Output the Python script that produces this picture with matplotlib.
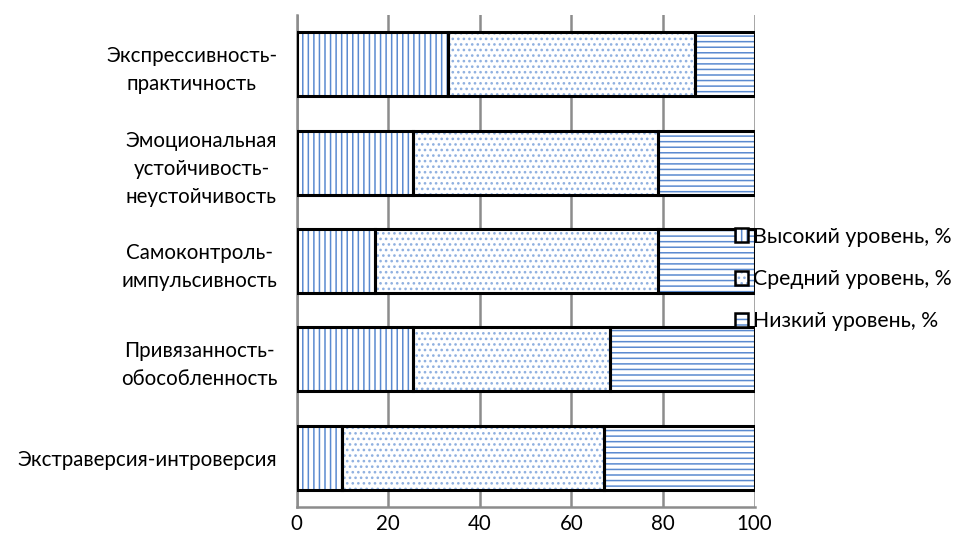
import matplotlib
matplotlib.use("Agg")
import matplotlib.pyplot as plt
from matplotlib.patches import Patch
from matplotlib.legend_handler import HandlerTuple

plt.rcParams['font.family'] = ['Lato', 'DejaVu Sans']
plt.rcParams['hatch.linewidth'] = 1.1

categories = ["Экспрессивность-\nпрактичность",
              "Эмоциональная\nустойчивость-\nнеустойчивость",
              "Самоконтроль-\nимпульсивность",
              "Привязанность-\nобособленность",
              "Экстраверсия-интроверсия"]
high = [33, 25.5, 17, 25.5, 10]
mid = [54, 53.5, 62, 43, 57]
low = [13, 21, 21, 31.5, 33]
series_names = ["Высокий уровень, %", "Средний уровень, %", "Низкий уровень, %"]
hatches = ["|||", "...", "---"]
hatch_colors = ["#5a8ad0", "#8fb0e0", "#5a8ad0"]

grid_gray = "#8c8c8c"

fig = plt.figure(figsize=(9.54, 5.46), dpi=100)
ax = fig.add_axes([0.311, 0.0714, 0.48, 0.901])

y = list(range(len(categories)))
left = [0] * len(categories)
handles = []
for vals, h, hc in zip([high, mid, low], hatches, hatch_colors):
    # hatch in blue first, then a black outline on top
    ax.barh(y, vals, left=left, height=0.65, color="white",
            edgecolor=hc, hatch=h, linewidth=0, zorder=3)
    ax.barh(y, vals, left=left, height=0.65, fill=False,
            edgecolor="black", linewidth=2.2, zorder=4)
    left = [a + b for a, b in zip(left, vals)]
    hp = Patch(facecolor="white", edgecolor=hc, hatch=h, linewidth=0)
    op = Patch(fill=False, edgecolor="black", linewidth=1.8)
    handles.append((hp, op))

ax.set_xlim(0, 100)
ax.set_ylim(len(categories) - 0.5, -0.5)
ax.set_xticks(range(0, 101, 20))
ax.set_yticks(y)
ax.set_yticklabels(categories, multialignment="center", linespacing=1.5)
ax.tick_params(axis="both", length=0, labelsize=14.8)
ax.tick_params(axis="y", pad=14)
ax.tick_params(axis="x", pad=5)

ax.grid(axis="x", color=grid_gray, linewidth=1.8, zorder=0)
ax.set_axisbelow(True)
for s in ["top", "right"]:
    ax.spines[s].set_visible(False)
for s in ["left", "bottom"]:
    ax.spines[s].set_color(grid_gray)
    ax.spines[s].set_linewidth(1.8)

fig.legend(handles, series_names, loc="upper left",
           bbox_to_anchor=(0.759, 0.604), frameon=False,
           handler_map={tuple: HandlerTuple(ndivide=1, pad=0)},
           handlelength=0.62, handleheight=0.62, handletextpad=0.22,
           labelspacing=1.05, fontsize=15.3, borderpad=0)

fig.savefig("out.png", dpi=100)
